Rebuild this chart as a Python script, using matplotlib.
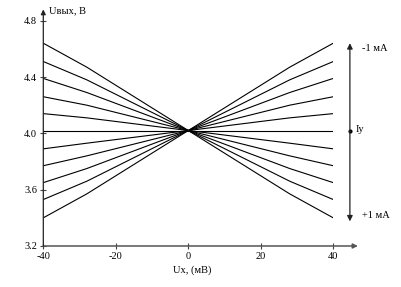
import matplotlib
matplotlib.use("Agg")
import matplotlib.pyplot as plt

# Data
ux = [-40, -28, 0, 28, 40]
curves = [
    [4.64, 4.47, 4.02, 4.47, 4.64],
    [4.51, 4.38, 4.02, 4.38, 4.51],
    [4.39, 4.29, 4.02, 4.29, 4.39],
    [4.26, 4.20, 4.02, 4.20, 4.26],
    [4.14, 4.11, 4.02, 4.11, 4.14],
    [4.02, 4.02, 4.02, 4.02, 4.02],
    [3.89, 3.93, 4.02, 3.93, 3.89],
    [3.77, 3.84, 4.02, 3.84, 3.77],
    [3.65, 3.75, 4.02, 3.75, 3.65],
    [3.53, 3.66, 4.02, 3.66, 3.53],
    [3.40, 3.57, 4.02, 3.57, 3.40],
]
xticks = [-40, -20, 0, 20, 40]
yticks = [3.2, 3.6, 4.0, 4.4, 4.8]
ytick_labels = ["3.2", "3.6", "4.0", "4.4", "4.8"]

plt.rcParams['font.family'] = ['Liberation Serif', 'DejaVu Serif']

fig = plt.figure(figsize=(4.01, 2.87), dpi=100)
ax = fig.add_axes([0.108, 0.1429, 0.723, 0.785])

for c in curves:
    ax.plot(ux, c, color='black', lw=0.8)

ax.set_xlim(-40, 40)
ax.set_ylim(3.2, 4.8)
for s in ax.spines.values():
    s.set_visible(False)

ax.set_xticks(xticks)
ax.set_xticklabels([str(v) for v in xticks])
ax.set_yticks(yticks)
ax.set_yticklabels(ytick_labels)
ax.tick_params(axis='both', direction='inout', length=5, width=0.8, labelsize=7.5,
               color='#444444', pad=2)

# axis lines with arrows
axis_col = '#555555'
ax.annotate('', xy=(1.085, 0), xytext=(0, 0), xycoords='axes fraction',
            arrowprops=dict(arrowstyle='-|>', color=axis_col, lw=1.1,
                            mutation_scale=7, shrinkA=0, shrinkB=0))
ax.annotate('', xy=(0, 1.05), xytext=(0, 0), xycoords='axes fraction',
            arrowprops=dict(arrowstyle='-|>', color='#222222', lw=0.9,
                            mutation_scale=7, shrinkA=0, shrinkB=0))

ax.text(0.018, 1.045, 'Uвых, В', transform=ax.transAxes, fontsize=7.5,
        ha='left', va='center')
ax.text(0.447, -0.107, 'Ux, (мВ)', transform=ax.transAxes, fontsize=7.5,
        ha='left', va='center')

# Iy double arrow on right
xa = 44.6
ax.annotate('', xy=(xa, 4.64), xytext=(xa, 3.375), xycoords='data',
            arrowprops=dict(arrowstyle='<|-|>', color='#222222', lw=0.9,
                            mutation_scale=8, shrinkA=0, shrinkB=0),
            annotation_clip=False)
ax.plot([xa], [4.02], marker='o', ms=2, color='black', clip_on=False)
ax.text(xa + 1.6, 4.03, 'Iy', fontsize=7.5, ha='left', va='center')
ax.text(xa + 3.3, 4.6, '-1 мА', fontsize=7.5, ha='left', va='center')
ax.text(xa + 3.3, 3.42, '+1 мА', fontsize=7.5, ha='left', va='center')

fig.savefig('out.png', dpi=100)
